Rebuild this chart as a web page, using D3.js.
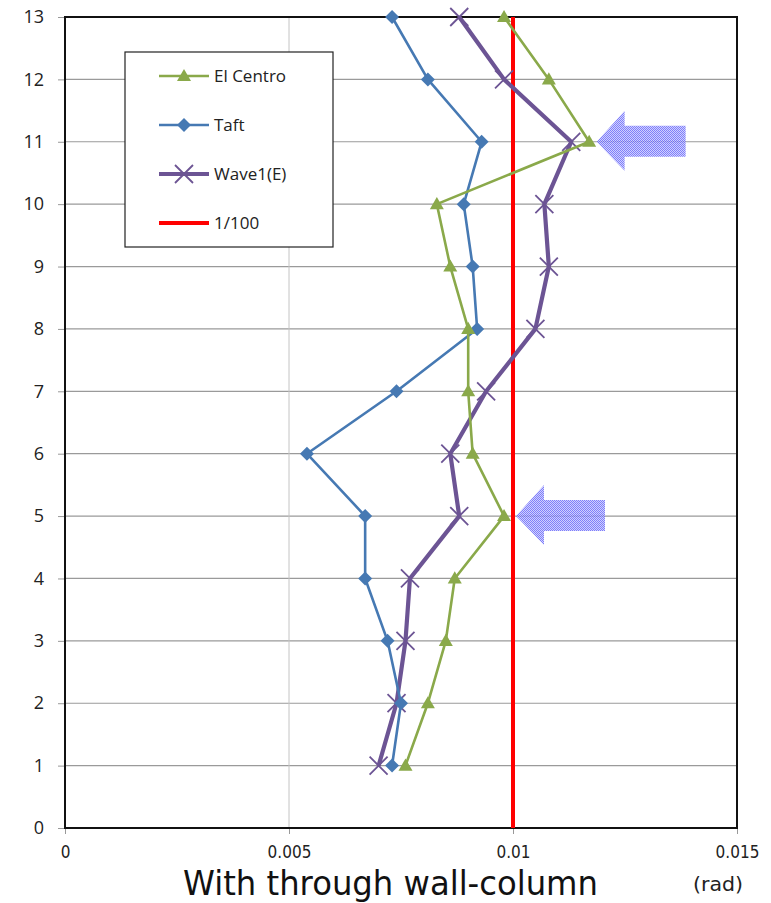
<!DOCTYPE html>
<html>
<head>
<meta charset="utf-8">
<script src="https://cdn.jsdelivr.net/npm/d3@7"></script>
<style>
  body { margin: 0; background: #fff; }
  svg { display: block; }
</style>
</head>
<body>
<div class="displayArea"></div>
<script>
// story levels and drift angles (rad)
var levels = [1, 2, 3, 4, 5, 6, 7, 8, 9, 10, 11, 12, 13];
var elCentro = [0.0076, 0.0081, 0.0085, 0.0087, 0.0098, 0.0091, 0.0090, 0.0090, 0.0086, 0.0083, 0.0117, 0.0108, 0.0098];
var taft = [0.0073, 0.0075, 0.0072, 0.0067, 0.0067, 0.0054, 0.0074, 0.0092, 0.0091, 0.0089, 0.0093, 0.0081, 0.0073];
var wave1 = [0.0070, 0.0074, 0.0076, 0.0077, 0.0088, 0.0086, 0.0094, 0.0105, 0.0108, 0.0107, 0.0113, 0.0098, 0.0088];
var limitValue = 0.01; // 1/100
var xTicks = [0, 0.005, 0.01, 0.015];
var xTickLabels = ["0", "0.005", "0.01", "0.015"];
var yTicks = [0, 1, 2, 3, 4, 5, 6, 7, 8, 9, 10, 11, 12, 13];
var arrowTargets = [[0.0118, 11], [0.0100, 5]]; // arrows pointing at these spots

var width = 771, height = 903;
var pLeft = 65, pRight = 737, pTop = 17, pBottom = 828; // "top" is taken by window.top

var xScale = d3.scaleLinear().domain([0, 0.015]).range([pLeft, pRight]);
var yScale = d3.scaleLinear().domain([0, 13]).range([pBottom, pTop]);

var svg = d3.select(".displayArea").append("svg")
    .attr("width", width).attr("height", height);

// checkered fill for the arrows
var pat = svg.append("defs").append("pattern")
    .attr("id", "dots").attr("width", 2).attr("height", 2)
    .attr("patternUnits", "userSpaceOnUse");
pat.append("rect").attr("width", 2).attr("height", 2).attr("fill", "#c4c4ff");
pat.append("rect").attr("width", 1).attr("height", 1).attr("fill", "#6060f8");
pat.append("rect").attr("x", 1).attr("y", 1).attr("width", 1).attr("height", 1).attr("fill", "#6060f8");

// gridlines
svg.append("g").selectAll("line").data(yTicks.slice(1))
    .enter().append("line")
    .attr("x1", pLeft).attr("x2", pRight)
    .attr("y1", function (d) { return yScale(d); })
    .attr("y2", function (d) { return yScale(d); })
    .attr("stroke", "#9a9a9a").attr("stroke-width", 1.2);

svg.append("g").selectAll("line").data(xTicks.slice(1, 3))
    .enter().append("line")
    .attr("x1", function (d) { return xScale(d); })
    .attr("x2", function (d) { return xScale(d); })
    .attr("y1", pTop).attr("y2", pBottom)
    .attr("stroke", "#c4c4c4").attr("stroke-width", 1);

// axes
var yAxis = d3.axisLeft(yScale).tickValues(yTicks).tickSize(7).tickPadding(14);
var gy = svg.append("g").attr("transform", `translate(${pLeft},0)`).call(yAxis);
gy.select(".domain").remove();
gy.selectAll(".tick line").attr("stroke", "#999");
gy.selectAll(".tick text")
    .attr("font-family", "'Open Sans', 'Liberation Sans', sans-serif")
    .attr("font-size", 18).attr("fill", "#222");

var xAxis = d3.axisBottom(xScale).tickValues(xTicks)
    .tickFormat(function (d, i) { return xTickLabels[i]; })
    .tickSize(6).tickPadding(11);
var gx = svg.append("g").attr("transform", `translate(0,${pBottom})`).call(xAxis);
gx.select(".domain").remove();
gx.selectAll(".tick line").attr("stroke", "#999");
gx.selectAll(".tick text")
    .attr("font-family", "'DejaVu Sans', sans-serif")
    .attr("font-size", 18).attr("fill", "#222")
    .attr("transform", "scale(0.85,1)")
    .attr("x", 0);

// plot border
svg.append("rect")
    .attr("x", pLeft).attr("y", pTop)
    .attr("width", pRight - pLeft).attr("height", pBottom - pTop)
    .attr("fill", "none").attr("stroke", "#111").attr("stroke-width", 2);

// 1/100 line
svg.append("line")
    .attr("x1", xScale(limitValue)).attr("x2", xScale(limitValue))
    .attr("y1", pTop).attr("y2", pBottom)
    .attr("stroke", "#ff0000").attr("stroke-width", 4);

var line = d3.line()
    .x(function (d) { return xScale(d[0]); })
    .y(function (d) { return yScale(d[1]); });

function pairs(vals) { return vals.map(function (v, i) { return [v, levels[i]]; }); }

var series = [
    { name: "El Centro", vals: elCentro, color: "#8aa94a", w: 2.6, marker: "tri" },
    { name: "Taft", vals: taft, color: "#4679b3", w: 2.6, marker: "dia" },
    { name: "Wave1(E)", vals: wave1, color: "#6c5494", w: 4.2, marker: "x" }
];

function drawMarker(g, kind, color, cx, cy) {
    if (kind == "tri") {
        g.append("path").attr("d", d3.symbol(d3.symbolTriangle, 85)())
            .attr("transform", `translate(${cx},${cy + 1})`).attr("fill", color);
    } else if (kind == "dia") {
        g.append("path").attr("d", "M0,-7L7,0L0,7L-7,0Z")
            .attr("transform", `translate(${cx},${cy})`).attr("fill", color);
    } else {
        g.append("path").attr("d", "M-9,-9L9,9M-9,9L9,-9")
            .attr("transform", `translate(${cx},${cy})`)
            .attr("stroke", color).attr("stroke-width", 1.8).attr("fill", "none");
    }
}

// green on top, like the reference
[series[2], series[1], series[0]].forEach(function (s) {
    var g = svg.append("g");
    g.append("path").datum(pairs(s.vals)).attr("d", line)
        .attr("fill", "none").attr("stroke", s.color)
        .attr("stroke-width", s.w).attr("stroke-linejoin", "round");
    pairs(s.vals).forEach(function (p) {
        drawMarker(g, s.marker, s.color, xScale(p[0]), yScale(p[1]));
    });
});

// arrows
arrowTargets.forEach(function (a) {
    var tx = xScale(a[0]) + 3, ty = yScale(a[1]);
    var d = `M${tx},${ty} L${tx + 28},${ty - 31} L${tx + 28},${ty - 16} L${tx + 89},${ty - 16}` +
        ` L${tx + 89},${ty + 15} L${tx + 28},${ty + 15} L${tx + 28},${ty + 29} Z`;
    svg.append("path").attr("d", d).attr("fill", "url(#dots)").attr("opacity", 0.8);
});

// legend
var leg = svg.append("g");
leg.append("rect").attr("x", 125).attr("y", 52).attr("width", 208).attr("height", 195)
    .attr("fill", "#fff").attr("stroke", "#222").attr("stroke-width", 1.2);
var legItems = series.concat([{ name: "1/100", color: "#ff0000", w: 4, marker: null }]);
legItems.forEach(function (s, i) {
    var y = 76 + i * 49;
    leg.append("line").attr("x1", 159).attr("x2", 209).attr("y1", y).attr("y2", y)
        .attr("stroke", s.color).attr("stroke-width", s.w);
    if (s.marker) drawMarker(leg, s.marker, s.color, 184, y);
    leg.append("text").attr("x", 214).attr("y", y).attr("dy", "0.35em")
        .attr("font-family", "'Open Sans', 'Liberation Sans', sans-serif")
        .attr("font-size", 17).attr("fill", "#222").text(s.name);
});

// titles
svg.append("text").attr("x", 183).attr("y", 895)
    .attr("font-family", "'DejaVu Sans', sans-serif")
    .attr("font-size", 34).attr("fill", "#111")
    .attr("textLength", 415).attr("lengthAdjust", "spacingAndGlyphs")
    .text("With through wall-column");
svg.append("text").attr("x", 693).attr("y", 891)
    .attr("font-family", "'DejaVu Sans', sans-serif")
    .attr("font-size", 20).attr("fill", "#222")
    .attr("textLength", 50).attr("lengthAdjust", "spacingAndGlyphs")
    .text("(rad)");
</script>
</body>
</html>
